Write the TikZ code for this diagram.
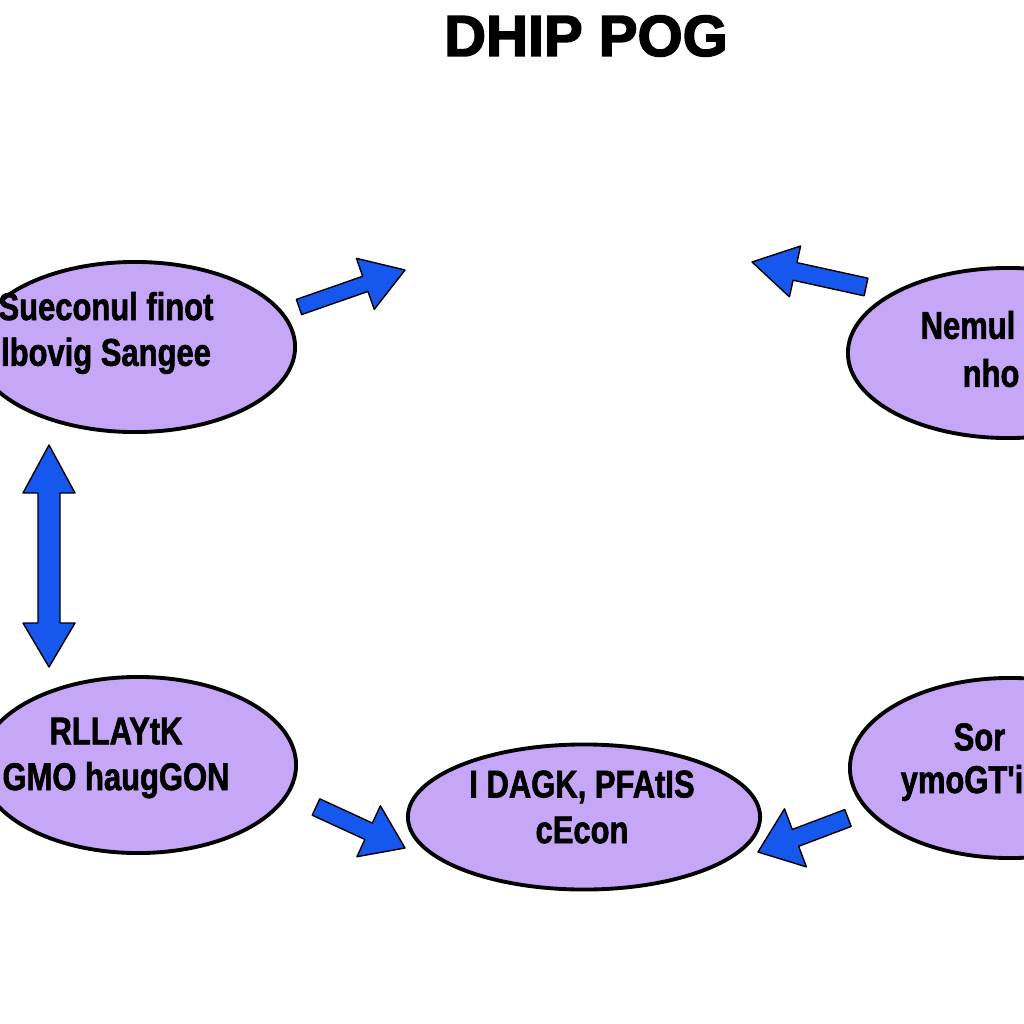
\documentclass[tikz,border=0pt]{standalone}
\usepackage{fontspec}
\setmainfont{Liberation Sans}
\newfontfamily\lblfont[FakeStretch=0.8,FakeBold=1.5]{Liberation Sans Bold}
\newfontfamily\ttlfont[FakeBold=2.5]{Liberation Sans Bold}
\usetikzlibrary{shapes.geometric,calc}
\definecolor{blobfill}{RGB}{198,166,246}
\definecolor{arrblue}{RGB}{22,88,238}
\tikzset{
  blob/.style={ellipse, draw=black, line width=1.1pt, fill=blobfill, inner sep=0pt},
  lbl/.style={font=\lblfont\fontsize{11}{13}\selectfont, align=center, text=black, inner sep=0pt},
  ttl/.style={font=\ttlfont\fontsize{16.5}{18}\selectfont, text=black, inner sep=0pt},
  fatarr/.style={fill=arrblue, draw=black, line width=0.4pt, line join=round}
}
\newcommand{\fatarrow}[5]{%
  \coordinate (hb) at ($(#2)!#5!(#1)$);
  \draw[fatarr] ($(#1)!#3!90:(#2)$) -- ($(hb)!#3!-90:(#1)$) -- ($(hb)!#4!-90:(#1)$) -- (#2)
    -- ($(hb)!#4!90:(#1)$) -- ($(hb)!#3!90:(#1)$) -- ($(#1)!#3!-90:(#2)$) -- cycle;
}
\begin{document}
\begin{tikzpicture}[x=0.01cm,y=-0.01cm]
\useasboundingbox[fill=white] (0,0) rectangle (1024,1024);
% title
\node[ttl] (title) at (586,36) {DHIP POG};
% ellipses
\node[blob, minimum width=3.2cm, minimum height=1.7cm] (tl) at (135,347) {};
\node[blob, minimum width=3.2cm, minimum height=1.7cm] (tr) at (1008,353) {};
\node[blob, minimum width=3.16cm, minimum height=1.76cm] (bl) at (138,765) {};
\node[blob, minimum width=3.52cm, minimum height=1.45cm] (bm) at (584,817) {};
\node[blob, minimum width=3.2cm, minimum height=1.8cm] (br) at (1010,768) {};
% texts
\node[lbl] (tltext) at (106,333) {Sueconul finot\\lbovig Sangee};
\node[lbl, anchor=west] (trtext1) at (920,325) {Nemul};
\node[lbl, anchor=west] (trtext2) at (962,373) {nho};
\node[lbl] (bltext) at (116,758) {RLLAYtK\\GMO haugGON};
\node[lbl] (bmtext) at (582,807) {I DAGK, PFAtIS\\cEcon};
\node[lbl, anchor=west] (brtext1) at (953,737) {Sor};
\node[lbl, anchor=west] (brtext2) at (900,783) {ymoGT'i};
% arrow coordinates
\coordinate (a1s) at (299,307); \coordinate (a1e) at (405,270);
\coordinate (a2s) at (866,287); \coordinate (a2e) at (752,262);
\coordinate (a4s) at (316,807); \coordinate (a4e) at (405,848);
\coordinate (a5s) at (848,818); \coordinate (a5e) at (758,852);
\coordinate (a3t) at (49,445); \coordinate (a3b) at (49,667);
\fatarrow{a1s}{a1e}{0.08cm}{0.27cm}{0.42cm}
\fatarrow{a2s}{a2e}{0.09cm}{0.26cm}{0.44cm}
\fatarrow{a4s}{a4e}{0.09cm}{0.28cm}{0.40cm}
\fatarrow{a5s}{a5e}{0.09cm}{0.31cm}{0.40cm}
% double vertical arrow
\draw[fatarr] (a3t) -- ($(a3t)+(26,48)$) -- ($(a3t)+(11,48)$) -- ($(a3b)+(11,-44)$) -- ($(a3b)+(26,-44)$)
  -- (a3b) -- ($(a3b)+(-26,-44)$) -- ($(a3b)+(-11,-44)$) -- ($(a3t)+(-11,48)$) -- ($(a3t)+(-26,48)$) -- cycle;
\end{tikzpicture}
\end{document}
